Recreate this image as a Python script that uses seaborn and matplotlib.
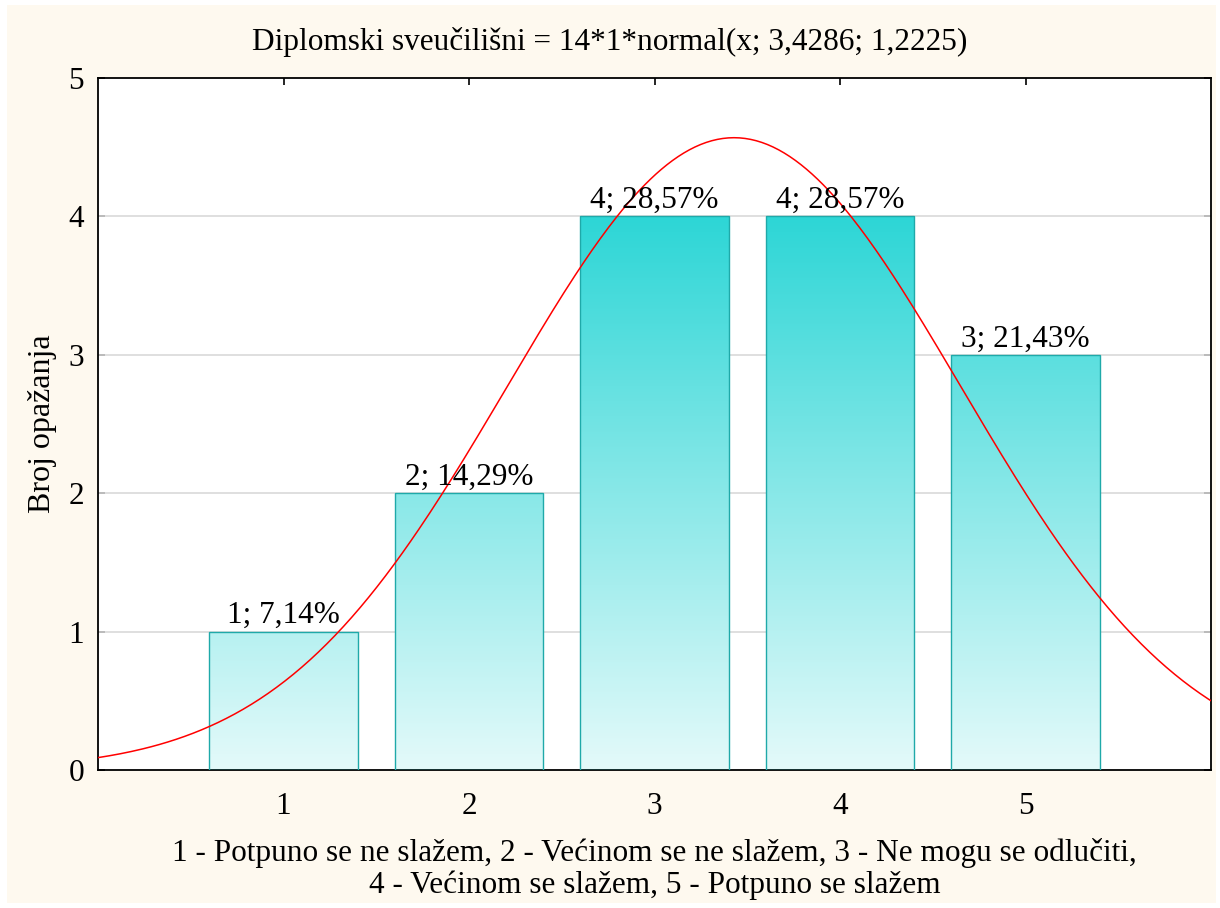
import numpy as np
import pandas as pd
import seaborn as sns
import matplotlib.pyplot as plt
from matplotlib.colors import LinearSegmentedColormap
from matplotlib.patches import Rectangle

# Answer categories (1-5) and how many respondents chose each
categories = [1, 2, 3, 4, 5]
counts = [1, 2, 4, 4, 3]
x_ticklabels = ["1", "2", "3", "4", "5"]
y_ticks = [0, 1, 2, 3, 4, 5]

# Fitted normal curve parameters
n_total = 14
mu = 3.4286
sigma = 1.2225

title = "Diplomski sveučilišni = 14*1*normal(x; 3,4286; 1,2225)"
xlabel = ("1 - Potpuno se ne slažem, 2 - Većinom se ne slažem, 3 - Ne mogu se odlučiti,\n"
          "4 - Većinom se slažem, 5 - Potpuno se slažem")
ylabel = "Broj opažanja"

sns.set_theme(style="white")
plt.rcParams["font.family"] = ["Liberation Serif", "DejaVu Serif"]
plt.rcParams["text.color"] = "black"
plt.rcParams["axes.labelcolor"] = "black"

cream = "#FEF9EF"
fig = plt.figure(figsize=(12.2, 9.08), dpi=100, facecolor="white")
fig.patches.append(Rectangle((7 / 1220, 5 / 908), 1209 / 1220, 898 / 908,
                             transform=fig.transFigure, facecolor=cream,
                             edgecolor="none", zorder=-10))

ax = fig.add_axes([98 / 1220, 1 - 770 / 908, (1211 - 98) / 1220, (770 - 78) / 908])
ax.set_facecolor("white")

df = pd.DataFrame({"kategorija": categories, "broj": counts})
sns.barplot(data=df, x="kategorija", y="broj", native_scale=True, width=0.8,
            facecolor="none", edgecolor="#1FA9A9", linewidth=1.0, ax=ax, zorder=3)

# Vertical gradient fill (light at 0, saturated cyan at 4) clipped to each bar
cmap = LinearSegmentedColormap.from_list("cyan_grad", ["#E4FAFA", "#2DD6D6"])
grad = np.linspace(0, 1, 256).reshape(-1, 1)
for patch in ax.patches:
    x0 = patch.get_x()
    w = patch.get_width()
    im = ax.imshow(grad, extent=[x0, x0 + w, 0, 4], origin="lower", aspect="auto",
                   cmap=cmap, zorder=2, interpolation="bilinear")
    im.set_clip_path(patch)

# Value labels above bars
for c, n in zip(categories, counts):
    pct = n / n_total * 100
    txt = f"{n}; {pct:.2f}%".replace(".", ",")
    ax.text(c, n + 0.01, txt, ha="center", va="bottom", fontsize=22.5, color="black",
            zorder=5)

# Normal curve
xs = np.linspace(0, 6, 400)
ys = n_total * 1 * np.exp(-0.5 * ((xs - mu) / sigma) ** 2) / (sigma * np.sqrt(2 * np.pi))
sns.lineplot(x=xs, y=ys, color="red", linewidth=1.1, ax=ax, zorder=4)

ax.set_xlim(0, 6)
ax.set_ylim(0, 5)
ax.set_xticks(categories)
ax.set_xticklabels(x_ticklabels)
ax.set_yticks(y_ticks)
ax.set_yticklabels([str(t) for t in y_ticks])
for yv in [1, 2, 3, 4]:
    ax.axhline(yv, color="#D9D9D9", linewidth=1.2, zorder=1)

for s in ax.spines.values():
    s.set_visible(True)
    s.set_color("black")
    s.set_linewidth(1.3)

ax.tick_params(axis="both", which="both", direction="in", length=5, width=1.2,
               top=True, right=True, bottom=True, left=True,
               labelsize=22.5, colors="black", pad=10)
ax.tick_params(axis="x", pad=16)

ax.set_xlabel(xlabel, fontsize=22.5, labelpad=12, linespacing=1.12, color="black")
ax.set_ylabel(ylabel, fontsize=23, labelpad=8, color="black")
fig.text(0.5, 1 - 42 / 908, title, ha="center", va="center", fontsize=22.5, color="black")

fig.savefig("out.png", dpi=100, facecolor=fig.get_facecolor())
